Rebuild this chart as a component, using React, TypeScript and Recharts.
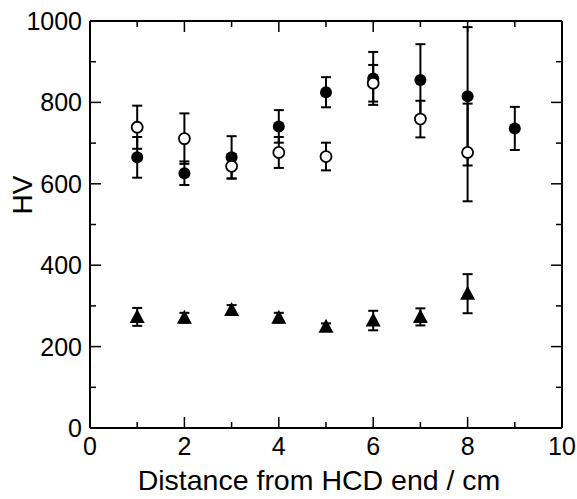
import React from "react"
import { ScatterChart, Scatter, XAxis, YAxis, ErrorBar, Label } from "recharts"

// distance from HCD end (cm)
const positions = [1, 2, 3, 4, 5, 6, 7, 8, 9]

// filled circles
const filledHV = [665, 626, 665, 741, 825, 859, 855, 815, 736]
const filledErr = [50, 29, 52, 40, 37, 65, 88, 170, 53]

// open circles
const openHV = [739, 711, 643, 677, 667, 847, 759, 677]
const openErr = [53, 62, 30, 38, 34, 45, 45, 120]

// filled triangles
const triangleHV = [273, 271, 290, 271, 249, 264, 273, 330]
const triangleErr = [22, 12, 12, 12, 8, 24, 21, 48]

const xTicks = [0, 1, 2, 3, 4, 5, 6, 7, 8, 9, 10]
const yTicks = [0, 100, 200, 300, 400, 500, 600, 700, 800, 900, 1000]

const toPoints = (vals: number[], errs: number[]) =>
  vals.map((hv, i) => ({ x: positions[i], hv, err: errs[i] }))

const filledData = toPoints(filledHV, filledErr)
const openData = toPoints(openHV, openErr)
const triangleData = toPoints(triangleHV, triangleErr)

const font = "'Liberation Sans', Arial, Helvetica, sans-serif"

const BottomTick = (props: any) => {
  const { x, y, payload } = props
  const major = payload.value % 2 === 0
  return (
    <g>
      <line x1={x} y1={y} x2={x} y2={y - (major ? 11 : 6)} stroke="#000" strokeWidth={1.5} />
      {major && (
        <text x={x} y={y + 27} textAnchor="middle" fontSize={25} fontFamily={font} fill="#000">
          {payload.value}
        </text>
      )}
    </g>
  )
}

const TopTick = (props: any) => {
  const { x, y, payload } = props
  const major = payload.value % 2 === 0
  return <line x1={x} y1={y} x2={x} y2={y + (major ? 11 : 6)} stroke="#000" strokeWidth={1.5} />
}

const LeftTick = (props: any) => {
  const { x, y, payload } = props
  const major = payload.value % 200 === 0
  return (
    <g>
      <line x1={x} y1={y} x2={x + (major ? 11 : 6)} y2={y} stroke="#000" strokeWidth={1.5} />
      {major && (
        <text x={x - 8} y={y + 9} textAnchor="end" fontSize={25} fontFamily={font} fill="#000">
          {payload.value}
        </text>
      )}
    </g>
  )
}

const RightTick = (props: any) => {
  const { x, y, payload } = props
  const major = payload.value % 200 === 0
  return <line x1={x} y1={y} x2={x - (major ? 11 : 6)} y2={y} stroke="#000" strokeWidth={1.5} />
}

const FilledCircle = (p: any) => <circle cx={p.cx} cy={p.cy} r={6} fill="#000" />
const OpenCircle = (p: any) => (
  <circle cx={p.cx} cy={p.cy} r={5.5} fill="#fff" stroke="#000" strokeWidth={1.8} />
)
const Triangle = (p: any) => (
  <polygon
    points={`${p.cx},${p.cy - 8} ${p.cx + 7.5},${p.cy + 6} ${p.cx - 7.5},${p.cy + 6}`}
    fill="#000"
  />
)
const Nothing = () => <g />

export default function App() {
  return (
    <div>
      <style>{"body{margin:0}"}</style>
      <ScatterChart width={577} height={499} margin={{ top: 20, right: 14, bottom: 0, left: 0 }}>
        <XAxis
          dataKey="x"
          type="number"
          domain={[0, 10]}
          ticks={xTicks}
          interval={0}
          allowDataOverflow
          height={71}
          tickSize={0}
          tickMargin={0}
          tick={<BottomTick />}
          axisLine={{ stroke: "#000", strokeWidth: 2 }}
        >
          <Label
            value="Distance from HCD end / cm"
            position="insideBottom"
            offset={9}
            dx={-7}
            style={{ fontSize: 28.5, fontFamily: font, fill: "#000" }}
          />
        </XAxis>
        <XAxis
          xAxisId="top"
          dataKey="x"
          orientation="top"
          type="number"
          domain={[0, 10]}
          ticks={xTicks}
          interval={0}
          allowDataOverflow
          height={1}
          tickSize={0}
          tickMargin={0}
          tick={<TopTick />}
          axisLine={{ stroke: "#000", strokeWidth: 2 }}
        />
        <YAxis
          dataKey="hv"
          type="number"
          domain={[0, 1000]}
          ticks={yTicks}
          interval={0}
          allowDataOverflow
          width={90}
          tickSize={0}
          tickMargin={0}
          tick={<LeftTick />}
          axisLine={{ stroke: "#000", strokeWidth: 2 }}
        >
          <Label
            content={(p: any) => {
              const cx = p.viewBox.x + 22
              const cy = 195
              return (
                <text
                  x={cx}
                  y={cy}
                  transform={`rotate(-90 ${cx} ${cy})`}
                  textAnchor="middle"
                  dominantBaseline="central"
                  fontSize={28}
                  fontFamily={font}
                  fill="#000"
                >
                  HV
                </text>
              )
            }}
          />
        </YAxis>
        <YAxis
          yAxisId="right"
          dataKey="hv"
          orientation="right"
          type="number"
          domain={[0, 1000]}
          ticks={yTicks}
          interval={0}
          allowDataOverflow
          width={1}
          tickSize={0}
          tickMargin={0}
          tick={<RightTick />}
          axisLine={{ stroke: "#000", strokeWidth: 2 }}
        />
        {/* invisible series so the top and right frame axes get drawn */}
        <Scatter
          data={triangleData}
          xAxisId="top"
          yAxisId="right"
          shape={<Nothing />}
          legendType="none"
          isAnimationActive={false}
        />
        <Scatter data={filledData} shape={<FilledCircle />} isAnimationActive={false}>
          <ErrorBar dataKey="err" direction="y" width={5} stroke="#000" strokeWidth={2} />
        </Scatter>
        <Scatter data={openData} shape={<OpenCircle />} isAnimationActive={false}>
          <ErrorBar dataKey="err" direction="y" width={5} stroke="#000" strokeWidth={2} />
        </Scatter>
        <Scatter data={triangleData} shape={<Triangle />} isAnimationActive={false}>
          <ErrorBar dataKey="err" direction="y" width={5} stroke="#000" strokeWidth={2} />
        </Scatter>
      </ScatterChart>
    </div>
  )
}
